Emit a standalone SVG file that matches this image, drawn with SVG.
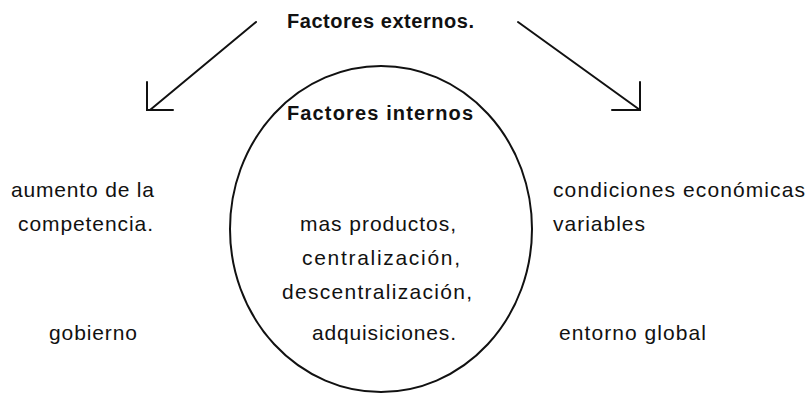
<svg xmlns="http://www.w3.org/2000/svg" width="807" height="396" viewBox="0 0 807 396">
<style>
text{font-family:"Liberation Sans",Arial,sans-serif;fill:#111;}
.b{font-weight:bold;font-size:20px;}
.r{font-size:21px;}
.ln{fill:none;stroke:#111;stroke-width:2;stroke-linecap:round;stroke-linejoin:miter;}
</style>
<rect width="807" height="396" fill="#fff"/>
<g id="connectors">
<line class="ln" x1="256" y1="22" x2="150" y2="110"/>
<polyline class="ln" points="147,82 147,110 173,110"/>
<line class="ln" x1="518" y1="22" x2="640" y2="110"/>
<polyline class="ln" points="640,82 640,110 612,110"/>
</g>
<g id="externos">
<text class="b" x="287" y="28" textLength="187" lengthAdjust="spacing">Factores externos.</text>
</g>
<g id="internos">
<ellipse cx="381" cy="229" rx="151" ry="163" fill="none" stroke="#111" stroke-width="2"/>
<text class="b" x="287" y="120" textLength="186" lengthAdjust="spacing">Factores internos</text>
<text class="r" x="300" y="231" textLength="156" lengthAdjust="spacing">mas productos,</text>
<text class="r" x="302" y="265" textLength="158" lengthAdjust="spacing">centralización,</text>
<text class="r" x="282" y="299" textLength="190" lengthAdjust="spacing">descentralización,</text>
<text class="r" x="312" y="340" textLength="144" lengthAdjust="spacing">adquisiciones.</text>
</g>
<g id="competencia">
<text class="r" x="11" y="197" textLength="143" lengthAdjust="spacing">aumento de la</text>
<text class="r" x="18" y="231" textLength="135" lengthAdjust="spacing">competencia.</text>
</g>
<g id="gobierno">
<text class="r" x="49" y="340" textLength="88" lengthAdjust="spacing">gobierno</text>
</g>
<g id="condiciones">
<text class="r" x="553" y="197" textLength="252" lengthAdjust="spacing">condiciones económicas</text>
<text class="r" x="553" y="231" textLength="92" lengthAdjust="spacing">variables</text>
</g>
<g id="entorno">
<text class="r" x="559" y="340" textLength="147" lengthAdjust="spacing">entorno global</text>
</g>
</svg>
